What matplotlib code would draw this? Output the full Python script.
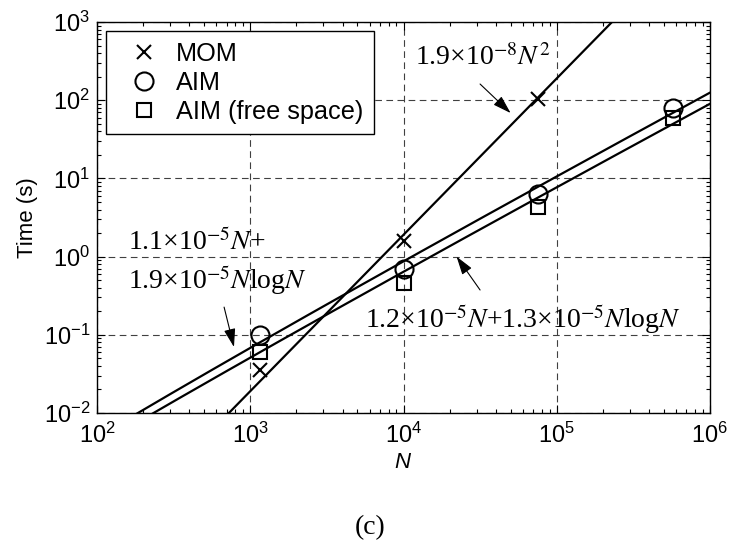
import numpy as np
import matplotlib
matplotlib.use("Agg")
import matplotlib.pyplot as plt

plt.rcParams['font.family'] = ['Liberation Sans', 'DejaVu Sans']
plt.rcParams['mathtext.fontset'] = 'custom'
plt.rcParams['mathtext.rm'] = 'Liberation Sans'
plt.rcParams['mathtext.it'] = 'Liberation Sans:italic'
plt.rcParams['mathtext.bf'] = 'Liberation Sans:bold'

# measured solve times
n_mom = [1.16e3, 1.0e4, 7.6e4]
t_mom = [0.035, 1.6, 105.0]

n_aim = [1.16e3, 1.0e4, 7.6e4, 5.7e5]
t_aim = [0.10, 0.69, 6.3, 80.0]

n_free = [1.16e3, 1.0e4, 7.6e4, 5.7e5]
t_free = [0.060, 0.46, 4.3, 60.0]

# fitted complexity curves
mom_c2 = 1.9e-8
aim_a, aim_b = 1.1e-5, 1.9e-5
free_a, free_b = 1.2e-5, 1.3e-5

fig = plt.figure(figsize=(7.3, 5.48), dpi=100)
ax = fig.add_axes([97/730, 1 - 413/548, 613/730, 391/548])

nn = np.logspace(2, 6, 400)
ax.plot(nn, mom_c2 * nn**2, 'k-', lw=1.6)
ax.plot(nn, aim_a * nn + aim_b * nn * np.log10(nn), 'k-', lw=1.6)
ax.plot(nn, free_a * nn + free_b * nn * np.log10(nn), 'k-', lw=1.6)

ax.plot(n_mom, t_mom, 'kx', ms=10, mew=1.5, label='MOM')
ax.plot(n_aim, t_aim, 'ko', ms=13, mew=1.5, mfc='none', label='AIM')
ax.plot(n_free, t_free, 'ks', ms=10, mew=1.5, mfc='none', label='AIM (free space)')

ax.set_xscale('log')
ax.set_yscale('log')
ax.set_xlim(1e2, 1e6)
ax.set_ylim(1e-2, 1e3)
ax.grid(True, which='major', color='0.25', ls=(0, (6, 4)), lw=0.8)
ax.tick_params(which='both', direction='in', top=True, right=True, labelsize=17)
ax.tick_params(which='major', length=6, width=0.8)
ax.tick_params(which='minor', length=3, width=0.8)
ax.tick_params(axis='x', pad=7)
ax.tick_params(axis='y', pad=5)
for s in ax.spines.values():
    s.set_linewidth(1.0)

ax.set_xlabel('$N$', fontsize=16, labelpad=3)
ax.set_ylabel('Time (s)', fontsize=16, labelpad=4)

leg = ax.legend(loc='upper left', bbox_to_anchor=(106/730, 1 - 31/548),
                bbox_transform=fig.transFigure, borderaxespad=0,
                fontsize=18.2, borderpad=0.42, labelspacing=0.2,
                handlelength=2.2, handletextpad=0.15, fancybox=False,
                framealpha=1, edgecolor='k')
leg.get_frame().set_linewidth(1.0)

tk = dict(fontsize=20, family='Liberation Serif', math_fontfamily='stix',
          color='k', va='baseline')
arr = dict(arrowstyle='-|>,head_length=0.8,head_width=0.25', lw=0.8,
           color='k', shrinkA=0, shrinkB=0, mutation_scale=14)

ax.text(1.19e4, 282, '1.9×10$^{-8}N^{2}$', **tk)
ax.annotate('', xy=(5.0e4, 68.5), xytext=(3.16e4, 161), arrowprops=arr)

ax.text(159, 1.215, '1.1×10$^{-5}N$+', **tk)
ax.text(159, 0.385, '1.9×10$^{-5}N$log$N$', **tk)
ax.annotate('', xy=(783, 0.0698), xytext=(675, 0.226), arrowprops=arr)

ax.text(5.61e3, 0.122, '1.2×10$^{-5}N$+1.3×10$^{-5}N$log$N$', **tk)
ax.annotate('', xy=(2.22e4, 1.0), xytext=(3.16e4, 0.374), arrowprops=arr)

fig.text(370/730, 1 - 528/548, '(c)', ha='center', va='center',
         family='Liberation Serif', fontsize=20)

fig.savefig('out.png', dpi=100)
